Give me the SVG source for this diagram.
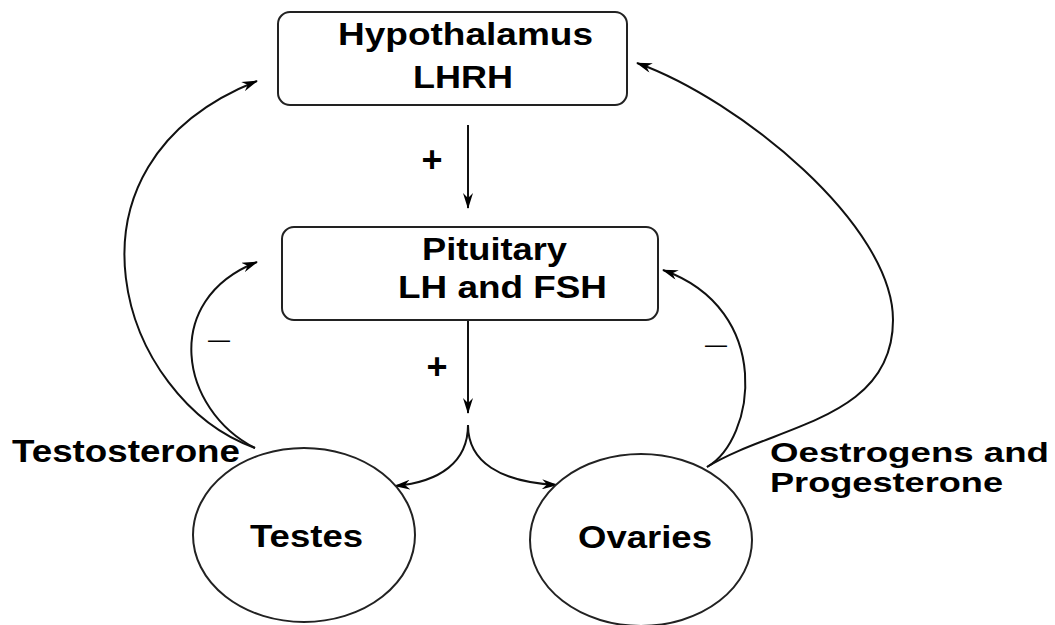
<svg xmlns="http://www.w3.org/2000/svg" width="1055" height="625" viewBox="0 0 1055 625">
<style>
.box{fill:#fff;stroke:#222;stroke-width:2}
.lbl{font-family:"Liberation Sans",Arial,sans-serif;font-weight:bold;font-size:31px;fill:#000}
.lbl2{font-family:"Liberation Sans",Arial,sans-serif;font-weight:bold;font-size:28px;fill:#000}
.plus{font-family:"Liberation Sans",Arial,sans-serif;font-weight:bold;font-size:36px;fill:#000}
.sign{font-family:"Liberation Sans",Arial,sans-serif;font-size:22px;fill:#000}
.conn{fill:none;stroke:#111;stroke-width:2}
</style>
<defs>
<marker id="ah" viewBox="0 0 16 10" markerWidth="16" markerHeight="10" refX="15" refY="5" orient="auto" markerUnits="userSpaceOnUse">
<path d="M0,0 L16,5 L0,10 L5,5 z" fill="#000"/>
</marker>
</defs>
<rect width="1055" height="625" fill="#fff"/>
<g id="connectors">
<line class="conn" x1="468" y1="125" x2="468" y2="208" marker-end="url(#ah)"/>
<line class="conn" x1="468" y1="321" x2="468" y2="413" marker-end="url(#ah)"/>
<path class="conn" d="M468,425 C468,462 440,482 395,486" marker-end="url(#ah)"/>
<path class="conn" d="M468,425 C468,462 500,482 557,485" marker-end="url(#ah)"/>
<path class="conn" d="M255,448 C180,410 160,300 257,262" marker-end="url(#ah)"/>
<path class="conn" d="M255,448 C120,400 45,165 257,81" marker-end="url(#ah)"/>
<path class="conn" d="M707,467 C755,440 775,310 663,270" marker-end="url(#ah)"/>
<path class="conn" d="M707,467 C775,425 893,420 893,320 C893,225 740,100 637,63" marker-end="url(#ah)"/>
<text class="plus" x="432" y="172" text-anchor="middle">+</text>
<text class="plus" x="437" y="379" text-anchor="middle">+</text>
<text class="sign" x="219" y="347" text-anchor="middle">—</text>
<text class="sign" x="716" y="352" text-anchor="middle">—</text>
</g>
<g id="hypothalamus">
<rect class="box" x="278" y="12" width="349" height="93" rx="12"/>
<text class="lbl" x="338" y="45" textLength="255" lengthAdjust="spacingAndGlyphs">Hypothalamus</text>
<text class="lbl" x="413" y="88" textLength="100" lengthAdjust="spacingAndGlyphs">LHRH</text>
</g>
<g id="pituitary">
<rect class="box" x="282" y="227" width="376" height="93" rx="12"/>
<text class="lbl" x="422" y="260" textLength="145" lengthAdjust="spacingAndGlyphs">Pituitary</text>
<text class="lbl" x="398" y="298" textLength="209" lengthAdjust="spacingAndGlyphs">LH and FSH</text>
</g>
<g id="testes">
<ellipse class="box" cx="304" cy="535" rx="111" ry="87"/>
<text class="lbl" x="250" y="547" textLength="113" lengthAdjust="spacingAndGlyphs">Testes</text>
</g>
<g id="ovaries">
<ellipse class="box" cx="641" cy="540" rx="111" ry="86"/>
<text class="lbl" x="578" y="548" textLength="134" lengthAdjust="spacingAndGlyphs">Ovaries</text>
</g>
<g id="labels">
<text class="lbl" x="12" y="462" textLength="228" lengthAdjust="spacingAndGlyphs">Testosterone</text>
<text class="lbl2" x="770" y="462" textLength="279" lengthAdjust="spacingAndGlyphs">Oestrogens and</text>
<text class="lbl2" x="770" y="492" textLength="233" lengthAdjust="spacingAndGlyphs">Progesterone</text>
</g>
</svg>
